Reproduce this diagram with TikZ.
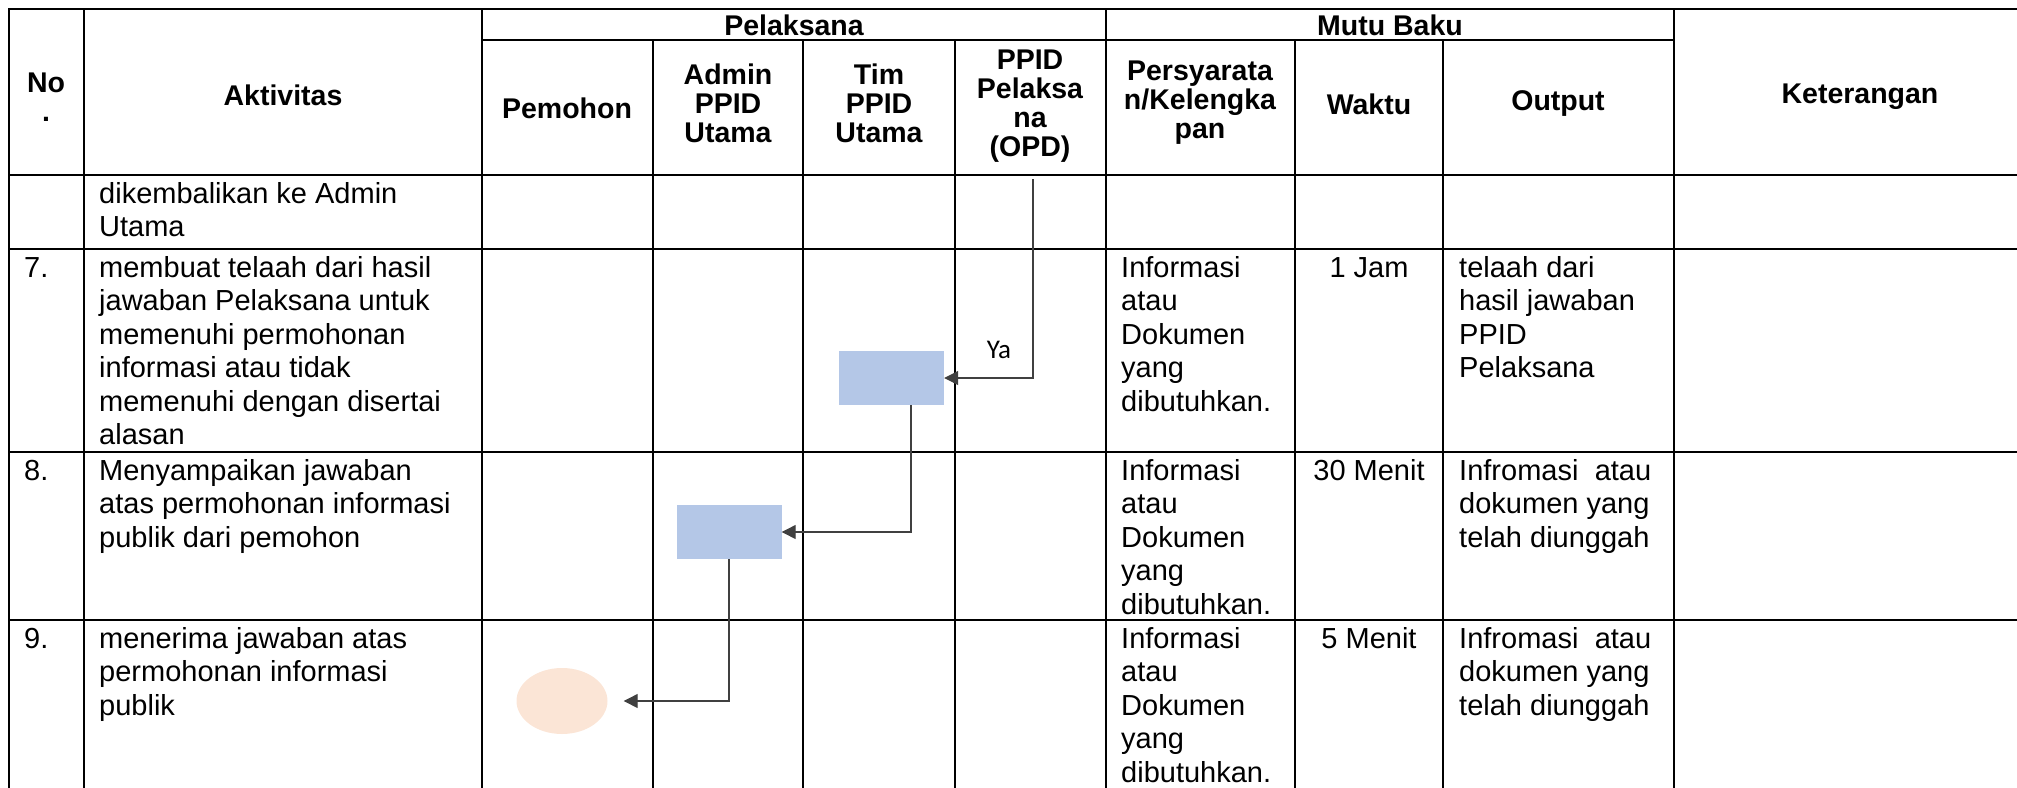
\documentclass[tikz,border=0pt]{standalone}
\usepackage{fontspec}
\setmainfont{Liberation Sans}
\newfontfamily\calfont{Carlito}
\usetikzlibrary{shapes.geometric,arrows.meta,calc}
\definecolor{procblue}{RGB}{180,199,231}
\definecolor{peach}{RGB}{251,229,214}
\definecolor{connclr}{RGB}{64,64,64}
\begin{document}
\begin{tikzpicture}[x=1pt,y=-1pt,
  grid/.style={line width=2.6pt,black,line cap=rect},
  conn/.style={line width=1.3pt,draw=connclr},
  tip/.style={-{Triangle[length=14pt,width=14pt]}},
  hd/.style={font=\bfseries\fontsize{28.5}{29}\selectfont,align=center,inner sep=0},
  txt/.style={font=\fontsize{29}{33.5}\selectfont,align=left,anchor=north west,inner sep=0},
  ctr/.style={font=\fontsize{29}{33.5}\selectfont,align=center,anchor=north,inner sep=0},
  proc/.style={fill=procblue,draw=none,rectangle,minimum width=105pt,minimum height=54pt,inner sep=0},
  term/.style={fill=peach,draw=none,ellipse,minimum width=91pt,minimum height=66pt,inner sep=0},
  lbl/.style={font=\calfont\fontsize{27}{30}\selectfont,inner sep=0}
]
\useasboundingbox (0,0) rectangle (2017,787);
\clip (0,0) rectangle (2017,787);

% ---------- table grid ----------
\draw[grid] (9,9) -- (2060,9);
\draw[grid] (482,40) -- (1674,40);
\foreach \yy in {175,249,452,620} {\draw[grid] (9,\yy) -- (2060,\yy);}
\foreach \xx in {9,84,482,1106,1674} {\draw[grid] (\xx,9) -- (\xx,800);}
\foreach \xx in {653,803,955,1295,1443} {\draw[grid] (\xx,40) -- (\xx,800);}

% ---------- header ----------
\node[hd] (hno) at (46,97) {No\\.};
\node[hd] (hakt) at (283,95) {Aktivitas};
\node[hd] (hpel) at (794,25) {Pelaksana};
\node[hd] (hmutu) at (1390,25) {Mutu Baku};
\node[hd] (hket) at (1860,97) {Keterangan};
\node[hd] (hpem) at (567,108) {Pemohon};
\node[hd] (hadm) at (728,103) {Admin\\PPID\\Utama};
\node[hd] (htim) at (879,103) {Tim\\PPID\\Utama};
\node[hd] (hppid) at (1030,106) {PPID\\Pelaksa\\na\\(OPD)};
\node[hd] (hsyr) at (1200,103) {Persyarata\\n/Kelengka\\pan};
\node[hd] (hwkt) at (1369,104) {Waktu};
\node[hd] (hout) at (1558,104) {Output};

% ---------- row 6 (continued) ----------
\node[txt] (a6) at (99,179.5) {\strut dikembalikan ke Admin\\Utama};

% ---------- row 7 ----------
\node[txt] (n7) at (24,253.5) {\strut 7.};
\node[txt] (a7) at (99,253.5) {\strut membuat telaah dari hasil\\jawaban Pelaksana untuk\\memenuhi permohonan\\informasi atau tidak\\memenuhi dengan disertai\\alasan};
\node[txt] (s7) at (1121,253.5) {\strut Informasi\\atau\\Dokumen\\yang\\dibutuhkan.};
\node[ctr] (w7) at (1369,253.5) {\strut 1 Jam};
\node[txt] (o7) at (1459,253.5) {\strut telaah dari\\hasil jawaban\\PPID\\Pelaksana};

% ---------- row 8 ----------
\node[txt] (n8) at (24,456.5) {\strut 8.};
\node[txt] (a8) at (99,456.5) {\strut Menyampaikan jawaban\\atas permohonan informasi\\publik dari pemohon};
\node[txt] (s8) at (1121,456.5) {\strut Informasi\\atau\\Dokumen\\yang\\dibutuhkan.};
\node[ctr] (w8) at (1369,456.5) {\strut 30 Menit};
\node[txt] (o8) at (1459,456.5) {\strut\hbox to 192pt{Infromasi\hfill atau}\\dokumen yang\\telah diunggah};

% ---------- row 9 ----------
\node[txt] (n9) at (24,624.5) {\strut 9.};
\node[txt] (a9) at (99,624.5) {\strut menerima jawaban atas\\permohonan informasi\\publik};
\node[txt] (s9) at (1121,624.5) {\strut Informasi\\atau\\Dokumen\\yang\\dibutuhkan.};
\node[ctr] (w9) at (1369,624.5) {\strut 5 Menit};
\node[txt] (o9) at (1459,624.5) {\strut\hbox to 192pt{Infromasi\hfill atau}\\dokumen yang\\telah diunggah};

% ---------- flow shapes ----------
\node[proc] (r1) at (891.5,378) {};
\node[proc] (r2) at (729,532) {};
\node[term] (ell) at (562,701) {};
\coordinate (ppidtop) at (1033,179);
\node[lbl] (ya) at (999,350) {Ya};

% ---------- connectors ----------
\draw[conn,tip] (ppidtop) |- (r1.east);
\draw[conn,tip] ($(r1.south)+(19.5,0)$) |- (r2.east);
\draw[conn,tip,shorten >=16pt] (r2.south) |- (ell.east);
\end{tikzpicture}
\end{document}
